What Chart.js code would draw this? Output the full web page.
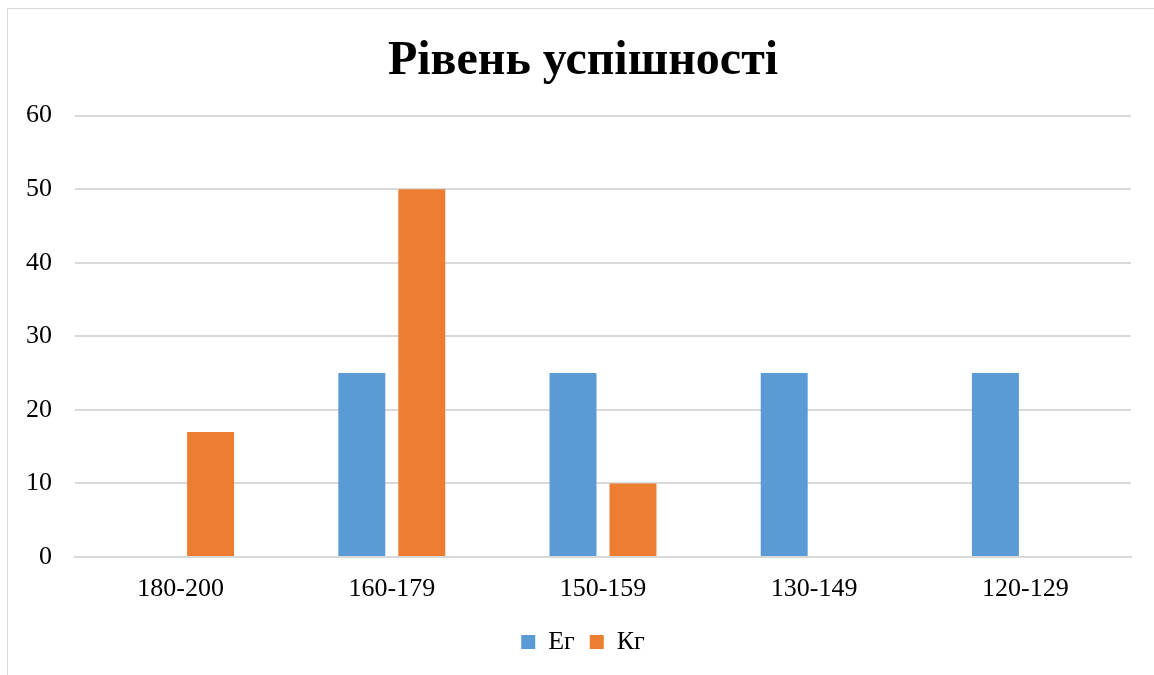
<!DOCTYPE html>
<html>
<head>
<meta charset="utf-8">
<script src="https://cdn.jsdelivr.net/npm/chart.js@4"></script>
<style>
  html, body { margin: 0; padding: 0; background: #fff; }
  #frame { position: absolute; left: 7px; top: 8px; width: 1160px; height: 680px; border: 1px solid #d9d9d9; box-sizing: border-box; }
  #wrap { position: absolute; left: 0; top: 0; width: 1154px; height: 675px; }
</style>
</head>
<body>
<div id="frame"></div>
<div id="wrap"><canvas id="c" width="1154" height="675"></canvas></div>
<script>
const titleText = "Рівень успішності";
const categories = ["180-200", "160-179", "150-159", "130-149", "120-129"];
const seriesNames = ["Ег", "Кг"];
const egValues = [0, 25, 25, 25, 25];
const kgValues = [17, 50, 10, 0, 0];
const yTicks = [0, 10, 20, 30, 40, 50, 60];

const FONT = "'Liberation Serif', 'Times New Roman', serif";

new Chart(document.getElementById('c'), {
  type: 'bar',
  data: {
    labels: categories,
    datasets: [
      { label: seriesNames[0], data: egValues, backgroundColor: '#5B9BD5', borderWidth: 0,
        categoryPercentage: 0.568, barPercentage: 0.783 },
      { label: seriesNames[1], data: kgValues, backgroundColor: '#ED7D31', borderWidth: 0,
        categoryPercentage: 0.568, barPercentage: 0.783 }
    ]
  },
  options: {
    responsive: false,
    animation: false,
    layout: { padding: { left: 12, right: 0, top: 0, bottom: 10 } },
    plugins: {
      title: {
        display: true, text: titleText, color: '#000',
        font: { family: FONT, size: 48, weight: 'bold' },
        padding: { top: 33, bottom: 25 }
      },
      legend: {
        position: 'bottom',
        labels: {
          color: '#000', boxWidth: 14, boxHeight: 14, padding: 15,
          font: { family: FONT, size: 26 }
        }
      },
      tooltip: { enabled: false }
    },
    scales: {
      x: {
        grid: { display: false, drawTicks: false },
        border: { display: true, color: '#d9d9d9', width: 2 },
        ticks: { color: '#000', font: { family: FONT, size: 26 }, padding: 17 },
        afterFit: (s) => { s.height = 57; }
      },
      y: {
        min: 0, max: 60,
        afterBuildTicks: (s) => { s.ticks = yTicks.map(v => ({ value: v })); },
        grid: { color: '#d9d9d9', lineWidth: 2, drawTicks: false },
        border: { display: false },
        ticks: { color: '#000', font: { family: FONT, size: 26 }, padding: 23 },
        afterFit: (s) => { s.width = 63; }
      },
      yRightSpace: {
        position: 'right', display: true,
        grid: { display: false, drawTicks: false },
        border: { display: false },
        ticks: { display: false },
        afterFit: (s) => { s.width = 23; }
      }
    }
  }
});
</script>
</body>
</html>
